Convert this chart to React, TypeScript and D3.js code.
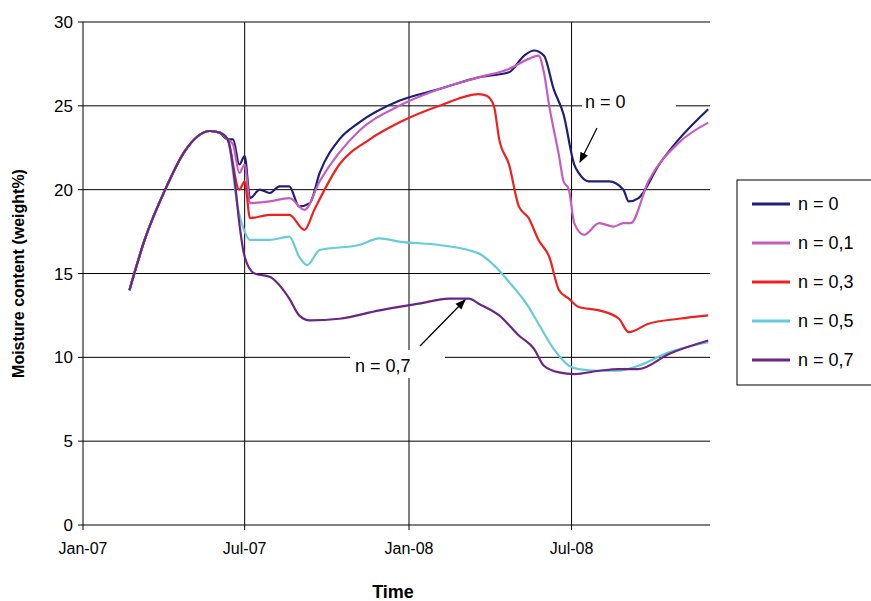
import React from "react";
import * as d3 from "d3";

const seriesNames = ["n = 0", "n = 0,1", "n = 0,3", "n = 0,5", "n = 0,7"];
const colors = ["#1f1f78", "#c45cc4", "#ee2020", "#66ccda", "#6b2585"];
// [days since 2007-01-01, moisture %]
const common: [number, number][] = [[52, 14], [69, 17], [92, 20], [114, 22.3], [142, 23.5], [153, 23.4], [162, 23]];
const s0: [number, number][] = [...common, [168, 23], [175, 21.5], [181, 22], [187, 19.5], [198, 20], [209, 19.8], [220, 20.2], [231, 20.2], [242, 19], [254, 19.2], [265, 21], [287, 23], [309, 24], [354, 25.3], [399, 26], [443, 26.7], [477, 27], [494, 28], [505, 28.3], [516, 28], [527, 26], [538, 24.5], [550, 21.5], [555, 21], [566, 20.5], [589, 20.5], [605, 20], [611, 19.3], [622, 19.5], [645, 21.5], [667, 23], [700, 24.8]];
const s1: [number, number][] = [...common, [168, 22.7], [175, 21], [181, 21.5], [187, 19.2], [209, 19.3], [231, 19.5], [248, 18.8], [265, 20.5], [309, 23.5], [354, 25], [399, 26], [443, 26.7], [477, 27.2], [499, 27.8], [510, 28], [516, 27], [522, 25], [533, 22], [538, 20.5], [544, 20], [550, 18], [561, 17.3], [578, 18], [594, 17.8], [605, 18], [613, 18], [633, 20.5], [667, 22.8], [700, 24]];
const s3: [number, number][] = [...common, [175, 20], [181, 20.5], [187, 18.3], [209, 18.5], [231, 18.5], [248, 17.6], [259, 18.8], [287, 21.5], [321, 23], [354, 24], [399, 25], [443, 25.7], [452, 25.6], [460, 25], [466, 23], [477, 21.5], [488, 19], [499, 18.3], [510, 17], [522, 16], [533, 14], [544, 13.5], [555, 13], [578, 12.8], [600, 12.3], [611, 11.5], [633, 12], [667, 12.3], [700, 12.5]];
const s5: [number, number][] = [...common, [173, 19], [181, 17.5], [187, 17], [209, 17], [231, 17.2], [242, 16], [251, 15.5], [265, 16.4], [309, 16.7], [332, 17.1], [354, 16.9], [399, 16.7], [443, 16.2], [460, 15.5], [477, 14.5], [499, 13], [510, 12], [527, 10.5], [544, 9.5], [555, 9.3], [578, 9.2], [600, 9.2], [622, 9.5], [656, 10.3], [700, 10.9]];
const s7: [number, number][] = [...common, [170, 20.5], [175, 18], [181, 16], [192, 15], [209, 14.8], [231, 13.5], [242, 12.5], [254, 12.2], [287, 12.3], [332, 12.8], [376, 13.2], [410, 13.5], [432, 13.5], [443, 13.2], [466, 12.5], [488, 11.3], [505, 10.5], [516, 9.5], [533, 9.1], [550, 9], [578, 9.2], [600, 9.3], [622, 9.3], [656, 10.2], [700, 11]];
const allSeries = [s0, s1, s3, s5, s7];
const yTicks = [0, 5, 10, 15, 20, 25, 30];
const xTickDates = ["2007-01-01", "2007-07-01", "2008-01-01", "2008-07-01"];
const xTickLabels = ["Jan-07", "Jul-07", "Jan-08", "Jul-08"];

const base = new Date(2007, 0, 1).getTime();
const toDate = (d: number) => new Date(base + d * 86400000);

export default function App() {
  const L = 83, R = 710, T = 22, B = 525;
  const x = d3.scaleTime().domain([new Date(2007, 0, 1), new Date(2008, 11, 3)]).range([L, R]);
  const y = d3.scaleLinear().domain([0, 30]).range([B, T]);
  const line = d3.line<[number, number]>().x(p => x(toDate(p[0]))).y(p => y(p[1])).curve(d3.curveMonotoneX);
  const font = "Arial, 'Liberation Sans', sans-serif";
  const xt = xTickDates.map(s => { const [a, b, c] = s.split("-").map(Number); return new Date(a, b - 1, c); });
  return (
    <svg width={871} height={601} style={{ position: "absolute", left: 0, top: 0, background: "#fff" }} fontFamily={font}>
      <defs>
        <marker id="ah" viewBox="0 0 10 10" refX="9" refY="5" markerWidth="8" markerHeight="8" orient="auto">
          <path d="M0,1 L10,5 L0,9 z" fill="#000" />
        </marker>
      </defs>
      {yTicks.map(t => (
        <g key={t}>
          <line x1={L} x2={R} y1={y(t)} y2={y(t)} stroke="#000" strokeWidth={1} />
          <line x1={L - 5} x2={L} y1={y(t)} y2={y(t)} stroke="#000" />
          <text x={L - 10} y={y(t) + 6} textAnchor="end" fontSize={17}>{t}</text>
        </g>
      ))}
      {xt.map((d, i) => (
        <g key={i}>
          <line x1={x(d)} x2={x(d)} y1={T} y2={B + 5} stroke="#000" />
          <text x={x(d)} y={B + 29} textAnchor="middle" fontSize={16}>{xTickLabels[i]}</text>
        </g>
      ))}
      {allSeries.map((s, i) => (
        <path key={i} d={line(s) || ""} fill="none" stroke={colors[i]} strokeWidth={2.2} />
      ))}
      <rect x={582} y={88} width={94} height={26} fill="#fff" />
      <text x={585} y={108} fontSize={18}>n = 0</text>
      <line x1={597} y1={128} x2={580} y2={162} stroke="#000" strokeWidth={1.3} markerEnd="url(#ah)" />
      <rect x={350} y={350} width={95} height={28} fill="#fff" />
      <text x={355} y={372} fontSize={18}>n = 0,7</text>
      <line x1={420} y1={346} x2={465} y2={300} stroke="#000" strokeWidth={1.3} markerEnd="url(#ah)" />
      <text transform={`translate(24,${(T + B) / 2}) rotate(-90)`} textAnchor="middle" fontSize={16} fontWeight="bold">Moisture content (weight%)</text>
      <text x={393} y={598} textAnchor="middle" fontSize={18} fontWeight="bold">Time</text>
      <rect x={737} y={180} width={140} height={205} fill="#fff" stroke="#000" />
      {seriesNames.map((n, i) => (
        <g key={n}>
          <line x1={752} x2={790} y1={204 + i * 39} y2={204 + i * 39} stroke={colors[i]} strokeWidth={3} />
          <text x={798} y={210 + i * 39} fontSize={18}>{n}</text>
        </g>
      ))}
    </svg>
  );
}
